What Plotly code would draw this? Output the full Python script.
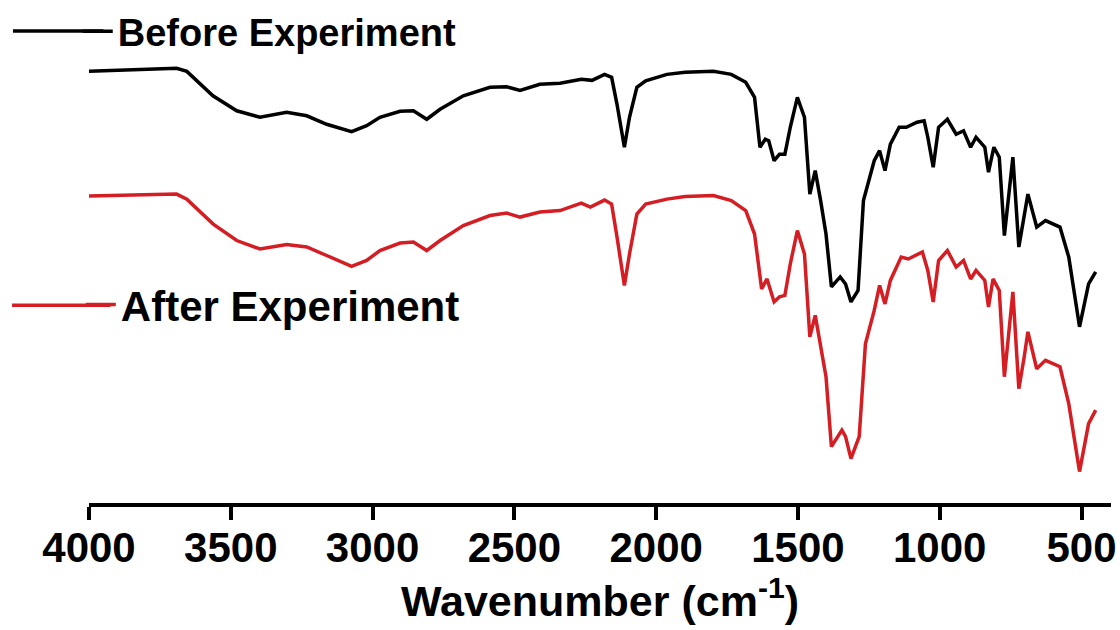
import plotly.graph_objects as go

# FTIR spectra (wavenumber in cm^-1, transmittance in arbitrary units)
wn_before = [4000, 3691, 3655, 3563, 3479, 3397, 3303, 3232, 3162, 3074, 3021, 2974, 2903, 2856,
             2809, 2762, 2680, 2586, 2527, 2480, 2410, 2339, 2264, 2226, 2182, 2157, 2138, 2112,
             2094, 2068, 2037, 1999, 1962, 1898, 1798, 1735, 1684, 1653, 1634, 1615, 1603, 1584,
             1565, 1546, 1527, 1502, 1477, 1458, 1439, 1420, 1401, 1382, 1351, 1332, 1313, 1288,
             1269, 1231, 1212, 1193, 1174, 1143, 1118, 1080, 1055, 1042, 1023, 1004, 973, 942,
             916, 891, 872, 841, 828, 809, 790, 772, 742, 721, 702, 689, 658, 627, 576, 545, 507,
             475, 450]
t_before = [86.5, 87.1, 86.5, 81.6, 78.6, 77.3, 78.3, 77.6, 75.9, 74.4, 75.6, 77.3, 78.5, 78.6,
            76.9, 78.9, 81.6, 83.3, 83.4, 82.7, 83.9, 84.1, 84.9, 84.7, 85.9, 85.3, 79.9, 71.3,
            77.3, 83.3, 84.6, 85.3, 85.9, 86.3, 86.5, 85.9, 84.3, 81.3, 71.3, 72.9, 72.6, 68.6,
            69.9, 69.9, 75.3, 81.3, 77.3, 61.9, 66.6, 60.6, 53.9, 43.3, 45.3, 43.9, 40.3, 42.6,
            60.6, 68.6, 70.6, 66.6, 71.9, 75.3, 75.3, 76.3, 76.6, 73.3, 67.3, 75.3, 76.9, 73.9,
            74.6, 71.3, 73.3, 71.3, 66.3, 71.3, 69.3, 53.6, 69.3, 51.3, 57.3, 61.9, 55.3, 56.6,
            55.3, 49.3, 35.3, 43.9, 46.3]

wn_after = [4000, 3691, 3655, 3562, 3479, 3397, 3303, 3232, 3162, 3074, 3021, 2974, 2903, 2856,
            2809, 2762, 2680, 2586, 2527, 2480, 2410, 2339, 2264, 2232, 2182, 2157, 2138, 2112,
            2094, 2068, 2037, 1962, 1898, 1798, 1735, 1684, 1653, 1628, 1609, 1584, 1565, 1546,
            1527, 1502, 1477, 1458, 1439, 1420, 1401, 1382, 1345, 1332, 1313, 1284, 1262, 1231,
            1212, 1193, 1174, 1136, 1111, 1061, 1042, 1023, 1004, 973, 942, 916, 891, 872, 841,
            828, 812, 790, 772, 742, 721, 702, 689, 658, 627, 576, 545, 507, 475, 450]
t_after = [61.5, 61.9, 60.9, 55.9, 52.6, 50.9, 51.8, 51.3, 49.6, 47.4, 48.6, 50.6, 52.1, 52.3,
           50.6, 52.6, 55.6, 57.6, 58.1, 57.3, 58.3, 58.6, 60.1, 59.3, 60.7, 59.9, 53.3, 43.6,
           49.9, 57.9, 59.9, 60.9, 61.4, 61.6, 60.6, 58.6, 53.9, 42.9, 44.9, 40.3, 41.3, 41.6,
           47.9, 54.6, 49.9, 33.3, 37.6, 31.9, 25.3, 11.3, 14.6, 13.3, 8.9, 13.3, 31.9, 38.6,
           43.6, 39.9, 44.6, 49.3, 48.9, 50.3, 46.6, 40.3, 48.6, 50.6, 47.3, 48.6, 44.9, 46.6,
           44.6, 39.3, 44.9, 42.6, 25.3, 42.3, 22.9, 29.3, 34.3, 26.9, 28.6, 27.3, 19.9, 6.3,
           15.9, 18.6]

x_ticks = [4000, 3500, 3000, 2500, 2000, 1500, 1000, 500]
series_names = ["Before Experiment", "After Experiment"]
series_colors = ["#000000", "#d41e24"]

FONT = "Liberation Sans, Arial, sans-serif"

fig = go.Figure()
fig.add_trace(go.Scatter(x=wn_before, y=t_before, mode="lines", name=series_names[0],
                         line=dict(color=series_colors[0], width=3.5), legend="legend"))
fig.add_trace(go.Scatter(x=wn_after, y=t_after, mode="lines", name=series_names[1],
                         line=dict(color=series_colors[1], width=3.5), legend="legend2"))

legend_y = [0.94, 0.394]
key_x0 = [-0.0744, -0.0753]
key_x1 = [0.014, 0.021]
# longer legend key lines (extend the native legend symbol to the left)
for c, ky, kx0, kx1 in zip(series_colors, legend_y, key_x0, key_x1):
    fig.add_shape(type="line", xref="paper", yref="paper",
                  x0=kx0, x1=kx1, y0=ky, y1=ky,
                  line=dict(color=c, width=3.5), layer="above")

fig.update_layout(
    width=1120, height=630,
    margin=dict(l=89, r=9, t=0, b=127),
    paper_bgcolor="white", plot_bgcolor="white",
    showlegend=True,
    legend=dict(x=-0.011, xanchor="left", y=legend_y[0], yanchor="middle",
                font=dict(family=FONT, size=38, color="#000000", weight="bold"),
                bgcolor="rgba(0,0,0,0)", borderwidth=0),
    legend2=dict(x=-0.008, xanchor="left", y=legend_y[1], yanchor="middle",
                 font=dict(family=FONT, size=42, color="#000000", weight="bold"),
                 bgcolor="rgba(0,0,0,0)", borderwidth=0),
    xaxis=dict(
        range=[4000, 396],
        tickvals=x_ticks,
        ticktext=[str(v) for v in x_ticks],
        ticks="outside", ticklen=13, tickwidth=3.5, tickcolor="#000000",
        ticklabelstandoff=-8,
        showline=True, linewidth=3.5, linecolor="#000000",
        showgrid=False, zeroline=False,
        tickfont=dict(family=FONT, size=42, color="#000000", weight="bold"),
        title=dict(text="Wavenumber (cm<sup>-1</sup>)", standoff=6,
                   font=dict(family=FONT, size=43, color="#000000", weight="bold")),
    ),
    yaxis=dict(range=[0, 100.6], visible=False, showgrid=False, zeroline=False),
)

fig.write_html("out.html")
